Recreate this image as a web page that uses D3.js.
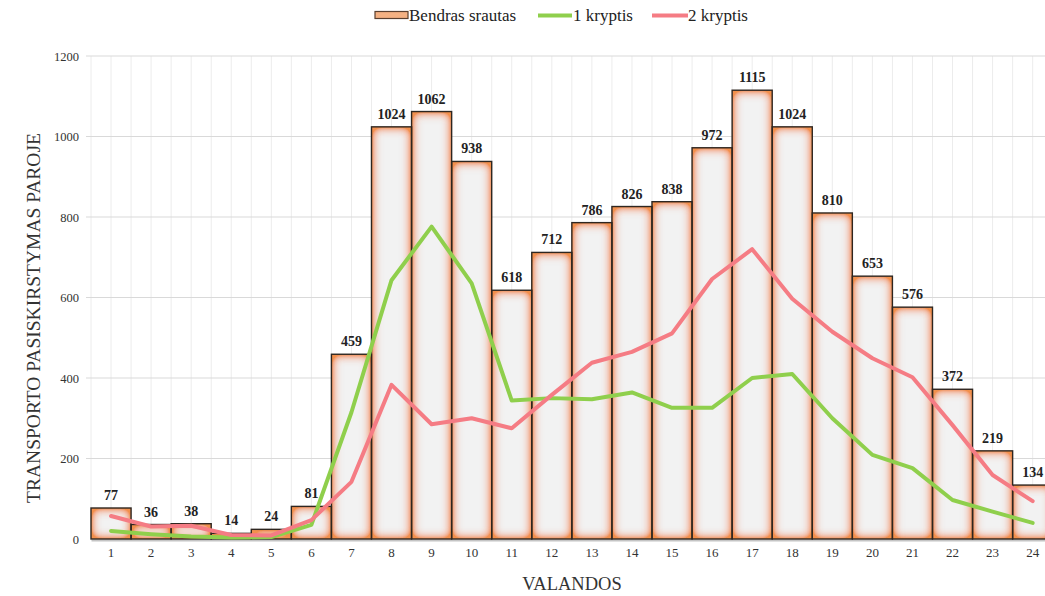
<!DOCTYPE html>
<html><head><meta charset="utf-8">
<script src="https://cdn.jsdelivr.net/npm/d3@7"></script>
<style>html,body{margin:0;padding:0;background:#fff;overflow:hidden} text{font-family:"Liberation Serif",serif}</style>
</head><body><svg id="chart" width="1045" height="596"></svg>
<script>
const hours = ["1","2","3","4","5","6","7","8","9","10","11","12","13","14","15","16","17","18","19","20","21","22","23","24"];
const total = [77,36,38,14,24,81,459,1024,1062,938,618,712,786,826,838,972,1115,1024,810,653,576,372,219,134];
const dir1 = [20,12,6,4,5,35,315,643,776,635,344,350,347,364,326,326,400,410,300,209,176,97,68,40];
const dir2 = [57,31,33,10,9,47,142,383,285,300,275,358,438,465,511,646,720,597,515,449,402,283,159,94];
const yTicks = [0,200,400,600,800,1000,1200];
const legendNames = ["Bendras srautas","1 kryptis","2 kryptis"];

const svg = d3.select("#chart");
const serif = "Liberation Serif";
const x = d3.scaleBand().domain(hours).range([91, 1052.7]).padding(0);
const y = d3.scaleLinear().domain([0,1200]).range([539, 56]);

const defs = svg.append("defs");
const f = defs.append("filter").attr("id","glow").attr("filterUnits","userSpaceOnUse")
  .attr("x",0).attr("y",0).attr("width",1100).attr("height",596);
f.append("feFlood").attr("flood-color","#f2904e").attr("result","c");
f.append("feComposite").attr("in","c").attr("in2","SourceAlpha").attr("operator","out").attr("result","inv");
f.append("feGaussianBlur").attr("in","inv").attr("stdDeviation",5.5).attr("result","blur");
const ct = f.append("feComponentTransfer").attr("in","blur").attr("result","blur2");
ct.append("feFuncA").attr("type","linear").attr("slope",2.1);
f.append("feComposite").attr("in","blur2").attr("in2","SourceAlpha").attr("operator","in").attr("result","g");
const fm = f.append("feMerge");
fm.append("feMergeNode").attr("in","SourceGraphic");
fm.append("feMergeNode").attr("in","g");

// vertical gridlines (band edges + centers)
const vg = svg.append("g");
hours.forEach((h,i)=>{
  const x0 = x(h), xc = x(h)+x.bandwidth()/2;
  [x0, xc].forEach(v=>{
    vg.append("line").attr("x1",v).attr("x2",v).attr("y1",y(1200)).attr("y2",y(0))
      .attr("stroke","#ececec").attr("stroke-width",1);
  });
});
// horizontal gridlines
svg.append("g").selectAll("line").data(yTicks.filter(d=>d>0)).join("line")
  .attr("x1",86).attr("x2",1045).attr("y1",d=>y(d)).attr("y2",d=>y(d))
  .attr("stroke","#d9d9d9").attr("stroke-width",1);

// y axis labels
const yAxis = d3.axisLeft(y).tickValues(yTicks).tickFormat(d3.format("d")).tickSize(0).tickPadding(0);
const ya = svg.append("g").attr("transform","translate(79,0)").call(yAxis).attr("font-family",serif);
ya.select(".domain").remove();
ya.selectAll("text").attr("font-family",serif).attr("font-size",12.5).attr("fill","#333");

// x axis
const xAxis = d3.axisBottom(x).tickSize(0).tickPadding(8);
const xa = svg.append("g").attr("transform","translate(0,540)").call(xAxis).attr("font-family",serif);
xa.select(".domain").attr("stroke","#c4c4c4").attr("stroke-width",2);
xa.selectAll("text").attr("font-family",serif).attr("font-size",13).attr("fill","#333");

// bars
const bars = svg.append("g");
bars.selectAll("rect.f").data(total).join("rect").attr("class","f")
  .attr("x",(d,i)=>x(hours[i])).attr("width",x.bandwidth())
  .attr("y",d=>y(d)).attr("height",d=>y(0)-y(d))
  .attr("fill","#f2f2f2").attr("filter","url(#glow)");
bars.selectAll("rect.s").data(total).join("rect").attr("class","s")
  .attr("x",(d,i)=>x(hours[i])).attr("width",x.bandwidth())
  .attr("y",d=>y(d)).attr("height",d=>y(0)-y(d))
  .attr("fill","none").attr("stroke","#2e2620").attr("stroke-width",1.4);

// lines
const line = d3.line().x((d,i)=>x(hours[i])+x.bandwidth()/2).y(d=>y(d));
svg.append("path").datum(dir1).attr("d",line).attr("fill","none")
  .attr("stroke","#8fcf4c").attr("stroke-width",4).attr("stroke-linejoin","round").attr("stroke-linecap","round");
svg.append("path").datum(dir2).attr("d",line).attr("fill","none")
  .attr("stroke","#f57c84").attr("stroke-width",4).attr("stroke-linejoin","round").attr("stroke-linecap","round");

// bar labels
svg.append("g").selectAll("text").data(total).join("text")
  .attr("x",(d,i)=>x(hours[i])+x.bandwidth()/2).attr("y",d=>y(d)-8)
  .attr("text-anchor","middle").attr("font-family",serif).attr("font-weight","bold")
  .attr("font-size",14).attr("fill","#222").text(d=>d);

// axis titles
svg.append("text").attr("transform","translate(40,318) rotate(-90)").attr("text-anchor","middle")
  .attr("font-family",serif).attr("font-size",19.5).attr("fill","#333").text("TRANSPORTO PASISKIRSTYMAS PAROJE");
svg.append("text").attr("x",572).attr("y",590).attr("text-anchor","middle")
  .attr("font-family",serif).attr("font-size",18.5).attr("fill","#333").text("VALANDOS");

// legend
const lg = svg.append("g");
lg.append("rect").attr("x",375).attr("y",11.5).attr("width",33).attr("height",7)
  .attr("fill","#f4b183").attr("stroke","#5a4030").attr("stroke-width",1.2);
lg.append("text").attr("x",409).attr("y",20.5).attr("font-family",serif).attr("font-size",17).attr("fill","#222").text(legendNames[0]);
lg.append("line").attr("x1",538).attr("x2",572).attr("y1",15.5).attr("y2",15.5).attr("stroke","#8fcf4c").attr("stroke-width",4);
lg.append("text").attr("x",573).attr("y",20.5).attr("font-family",serif).attr("font-size",17).attr("fill","#222").text(legendNames[1]);
lg.append("line").attr("x1",652).attr("x2",688).attr("y1",15.5).attr("y2",15.5).attr("stroke","#f57c84").attr("stroke-width",4);
lg.append("text").attr("x",688).attr("y",20.5).attr("font-family",serif).attr("font-size",17).attr("fill","#222").text(legendNames[2]);
</script></body></html>
